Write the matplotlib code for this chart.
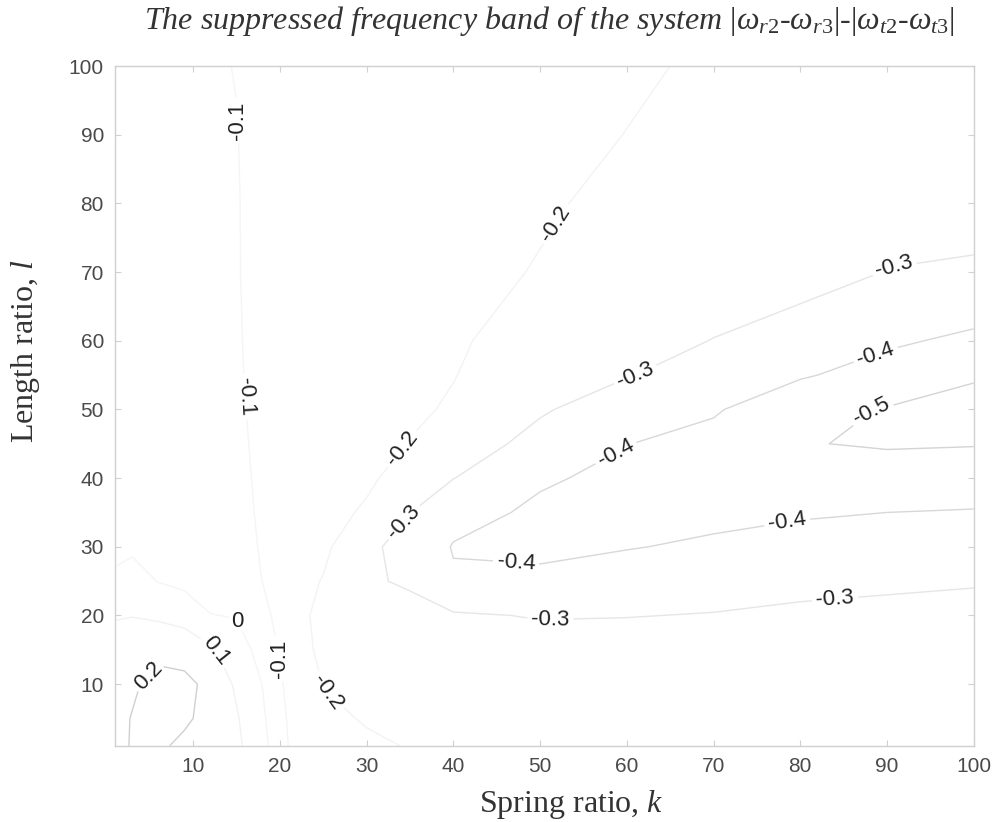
import numpy as np
import matplotlib.pyplot as plt

# grid of spring ratio k (columns) and length ratio l (rows)
k = [1, 3, 6, 9, 12, 15, 18, 21, 25, 30, 35, 40, 50, 60, 70, 80, 90, 100]
l = [1, 5, 10, 15, 20, 25, 30, 35, 40, 45, 50, 55, 60, 70, 80, 90, 100]

# |w_r2 - w_r3| - |w_t2 - w_t3| along l, one list per k value
band_by_k = [
    [0.16, 0.17, 0.16, 0.13, 0.095, 0.015, -0.02, -0.035, -0.045, -0.05, -0.052, -0.055, -0.057, -0.06, -0.06, -0.06, -0.06],
    [0.21, 0.205, 0.185, 0.14, 0.098, 0.035, -0.015, -0.035, -0.045, -0.05, -0.053, -0.056, -0.058, -0.062, -0.063, -0.065, -0.065],
    [0.215, 0.245, 0.235, 0.17, 0.085, -0.003, -0.025, -0.04, -0.05, -0.055, -0.058, -0.06, -0.062, -0.066, -0.069, -0.071, -0.072],
    [0.18, 0.215, 0.225, 0.16, 0.065, -0.025, -0.045, -0.055, -0.062, -0.066, -0.068, -0.07, -0.072, -0.076, -0.079, -0.082, -0.084],
    [0.14, 0.17, 0.175, 0.115, 0.003, -0.05, -0.065, -0.072, -0.077, -0.08, -0.082, -0.084, -0.086, -0.089, -0.091, -0.094, -0.096],
    [0.12, 0.11, 0.085, 0.04, -0.005, -0.06, -0.078, -0.085, -0.089, -0.092, -0.094, -0.096, -0.097, -0.098, -0.098, -0.099, -0.101],
    [0.03, 0.015, -0.002, -0.03, -0.07, -0.101, -0.105, -0.107, -0.108, -0.109, -0.11, -0.11, -0.11, -0.111, -0.112, -0.112, -0.113],
    [-0.101, -0.11, -0.125, -0.15, -0.16, -0.155, -0.14, -0.13, -0.125, -0.122, -0.12, -0.12, -0.118, -0.117, -0.116, -0.116, -0.115],
    [-0.17, -0.185, -0.202, -0.22, -0.225, -0.205, -0.18, -0.16, -0.145, -0.135, -0.13, -0.125, -0.12, -0.12, -0.12, -0.12, -0.12],
    [-0.19, -0.205, -0.23, -0.255, -0.275, -0.29, -0.28, -0.215, -0.18, -0.16, -0.15, -0.14, -0.135, -0.13, -0.13, -0.13, -0.13],
    [-0.203, -0.21, -0.225, -0.25, -0.275, -0.31, -0.335, -0.298, -0.25, -0.203, -0.185, -0.17, -0.16, -0.15, -0.145, -0.142, -0.14],
    [-0.205, -0.21, -0.23, -0.26, -0.29, -0.39, -0.405, -0.37, -0.298, -0.25, -0.21, -0.197, -0.19, -0.175, -0.165, -0.157, -0.15],
    [-0.205, -0.215, -0.235, -0.265, -0.305, -0.38, -0.42, -0.415, -0.39, -0.33, -0.29, -0.26, -0.235, -0.205, -0.19, -0.18, -0.17],
    [-0.21, -0.22, -0.24, -0.27, -0.302, -0.35, -0.405, -0.43, -0.42, -0.398, -0.35, -0.295, -0.27, -0.24, -0.22, -0.201, -0.19],
    [-0.215, -0.225, -0.245, -0.27, -0.297, -0.33, -0.385, -0.425, -0.445, -0.43, -0.39, -0.345, -0.302, -0.255, -0.235, -0.22, -0.21],
    [-0.22, -0.23, -0.245, -0.265, -0.29, -0.315, -0.365, -0.41, -0.455, -0.495, -0.47, -0.39, -0.335, -0.27, -0.245, -0.235, -0.23],
    [-0.22, -0.23, -0.245, -0.26, -0.285, -0.31, -0.355, -0.40, -0.45, -0.51, -0.505, -0.44, -0.385, -0.302, -0.27, -0.26, -0.25],
    [-0.22, -0.23, -0.245, -0.26, -0.28, -0.305, -0.35, -0.395, -0.445, -0.505, -0.55, -0.485, -0.42, -0.305, -0.285, -0.275, -0.27],
]

levels = [-0.5, -0.4, -0.3, -0.2, -0.1, 0, 0.1, 0.2]
# faded line colour per level, the mid levels almost vanish on white
level_colors = ['#d4d4d4', '#d8d8d8', '#e6e6e6', '#f3f3f3',
                '#f5f5f5', '#f5f5f5', '#f2f2f2', '#d0d0d0']
ticks = [10, 20, 30, 40, 50, 60, 70, 80, 90, 100]

# where the contour labels go (k, l)
label_at = [(14.9, 92), (15.3, 51.8), (20, 13.7), (15.5, 19.3), (13.2, 15.2),
            (4.4, 11.8), (25.5, 8.9), (34.4, 44), (51.8, 77), (34.4, 33.5),
            (61, 55), (90.8, 70.7), (51.2, 19.4), (84, 22.5), (47.2, 27.2),
            (58.6, 44), (78.5, 33.5), (88.8, 57.6), (89, 48.4)]

plt.rcParams['font.family'] = ['Liberation Sans', 'DejaVu Sans']
plt.rcParams['mathtext.fontset'] = 'custom'
plt.rcParams['mathtext.rm'] = 'Liberation Serif'
plt.rcParams['mathtext.it'] = 'Liberation Serif:italic'

band = np.array(band_by_k).T

fig = plt.figure(figsize=(10.02, 8.22), dpi=100)
ax = fig.add_axes([0.1148, 0.0925, 0.857, 0.8272])

cs = ax.contour(k, l, band, levels=levels, colors=level_colors,
                linewidths=1.0, linestyles='solid')
texts = ax.clabel(cs, fmt='%g', manual=label_at, inline=True, inline_spacing=4,
                  fontsize=16, colors='#222222')
# the two upright -0.1 labels read bottom to top, the 0 label stays level
texts[0].set_rotation(90)
texts[2].set_rotation(90)
texts[3].set_rotation(0)

ax.set_xlim(1, 100)
ax.set_ylim(1, 100)
ax.set_xticks(ticks)
ax.set_yticks(ticks)
ax.tick_params(direction='in', top=True, right=True, length=4, color='#d0d0d0',
               labelsize=15, labelcolor='#4a4a4a', pad=8)
for s in ax.spines.values():
    s.set_color('#d0d0d0')
    s.set_linewidth(1.0)

fig.text(0.548, 1 - 21 / 822,
         'The suppressed frequency band of the system '
         r'$|\omega_{r2}$-$\omega_{r3}|$-$|\omega_{t2}$-$\omega_{t3}|$',
         family='Liberation Serif', style='italic', fontsize=23,
         color='#333333', ha='center', va='center')
ax.set_xlabel('Spring ratio, $k$', family='Liberation Serif', fontsize=23,
              color='#333333')
ax.set_ylabel('Length ratio, $l$', family='Liberation Serif', fontsize=23,
              color='#333333')
ax.xaxis.set_label_coords(0.531, -0.062)
ax.yaxis.set_label_coords(-0.085, 0.58)

fig.savefig('out.png', dpi=100)
